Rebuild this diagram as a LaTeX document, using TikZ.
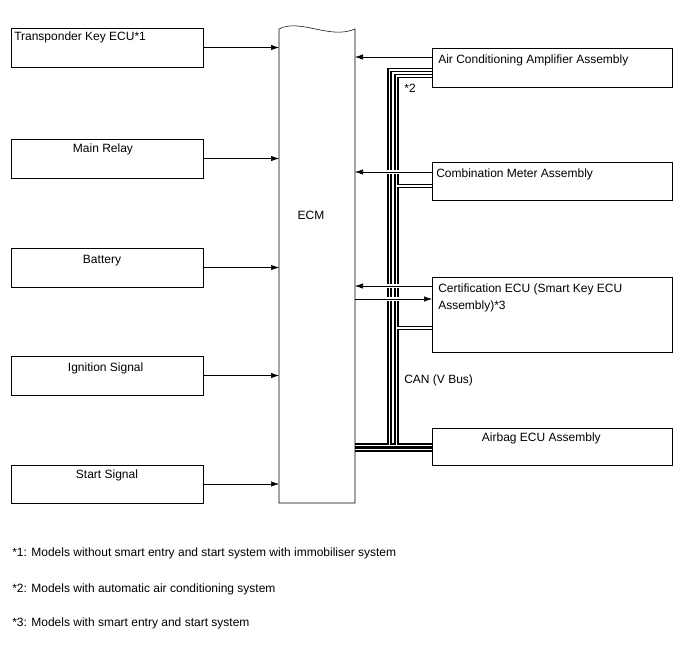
\documentclass[tikz,border=0pt]{standalone}
\usepackage{fontspec}
\setmainfont{Liberation Sans}
\usetikzlibrary{arrows.meta,calc,positioning}
\pgfdeclarelayer{front}
\pgfsetlayers{main,front}
\tikzset{
  ecu diagram/.style={font=\fontsize{9pt}{12.5pt}\selectfont,
    line width=1pt, x=0.75pt, y=-0.75pt},
  ecu box/.style={draw, anchor=north west, minimum width=144pt,
    minimum height=29.25pt, inner sep=0pt, outer sep=0pt},
  ecu wide/.style={ecu box, minimum width=180pt},
  ecu text/.style={inner sep=0pt, align=left},
  sig arrow/.style={-{Latex[length=6pt,width=4pt]}},
  sig cross/.style={sig arrow, preaction={draw=white, line width=3pt}},
  ecu note/.style={anchor=west, inner sep=0pt}
}
\begin{document}
\begin{tikzpicture}[ecu diagram]
\useasboundingbox (0,0) rectangle (688,658);
\begin{pgfonlayer}{front}
% inputs on the left
\node[ecu box] (tk) at (11,28) {};
\node[ecu box] (relay) at (11,139) {};
\node[ecu box] (batt) at (11,248) {};
\node[ecu box] (ign) at (11,356) {};
\node[ecu box, minimum height=28.5pt] (start) at (11,465) {};
\node[ecu text, below right=2.8pt and 2.25pt of tk.north west] (tktxt) {Transponder Key ECU*1};
\node[ecu text, below=3.5pt of relay.north, xshift=-3pt] (relaytxt) {Main Relay};
\node[ecu text, below=5pt of batt.north, xshift=-3.75pt] (batttxt) {Battery};
\node[ecu text, below=5pt of ign.north, xshift=-1pt] (igntxt) {Ignition Signal};
\node[ecu text, below=3.5pt of start.north] (starttxt) {Start Signal};
% engine control module
\node[anchor=north west, minimum width=57pt, minimum height=355.5pt,
  inner sep=0pt, outer sep=0pt] (ecm) at (279,29) {};
\draw (ecm.south west) -- (ecm.north west)
  .. controls +(21,-11) and +(-25,11) .. (ecm.north east)
  -- (ecm.south east) -- cycle;
\node[ecu text] (ecmtxt) at ($(ecm.north)+(-6,186)$) {ECM};
% units on the CAN bus
\node[ecu wide] (ac) at (432,48) {};
\node[ecu wide, minimum height=28.5pt] (cm) at (432,162) {};
\node[ecu wide, minimum height=56.25pt] (cert) at (432,277) {};
\node[ecu wide, minimum height=27.75pt] (airbag) at (432,428) {};
\node[ecu text, below right=5pt and 4.5pt of ac.north west] (actxt) {Air Conditioning Amplifier Assembly};
\node[ecu text, below right=5pt and 3pt of cm.north west] (cmtxt) {Combination Meter Assembly};
\node[ecu text, below right=5pt and 4.5pt of cert.north west] (certtxt) {Certification ECU (Smart Key ECU\\Assembly)*3};
\node[ecu text, below=3.5pt of airbag.north, xshift=-8pt] (airbagtxt) {Airbag ECU Assembly};
\end{pgfonlayer}

\coordinate (canA) at (389.5,70);
\coordinate (canB) at (396.5,76);
\coordinate (canlowA) at (389.5,445.5);
\coordinate (canlowB) at (396.5,449.5);
\coordinate (cmtap) at ($(cm.north west)+(0,24)$);
\coordinate (certtap) at ($(cert.north west)+(0,51)$);
\foreach \w/\c in {3.6pt/black,1pt/white}{
  \draw[line width=\w, draw=\c]
    (ecm.east |- canlowA) -- (airbag.west |- canlowA)
    (ecm.east |- canlowB) -- (airbag.west |- canlowB)
    (canlowA) -- (canA) -- (ac.west |- canA)
    (canlowA -| canB) -- (canB) -- (ac.west |- canB)
    (canB |- cmtap) -- (cmtap)
    (canB |- certtap) -- (certtap);
}
\node[ecu text] (star2) at (410,88) {*2};
\node[ecu text, anchor=west] (cantxt) at (404,380) {CAN (V Bus)};

% signals
\foreach \n in {tk,relay,batt,ign,start}
  \draw[sig arrow] (\n.east) -- (\n.east -| ecm.west);
\coordinate (acin) at ($(ac.north west)+(0,9)$);
\coordinate (cmin) at ($(cm.north west)+(0,10)$);
\coordinate (certin) at ($(cert.north west)+(0,9)$);
\coordinate (certout) at ($(cert.north west)+(0,22)$);
\draw[sig cross] (acin) -- (acin -| ecm.east);
\draw[sig cross] (cmin) -- (cmin -| ecm.east);
\draw[sig cross] (certin) -- (certin -| ecm.east);
\draw[sig cross] (certout -| ecm.east) -- (certout);

\node[ecu note] (note1) at (12,553) {*1: Models without smart entry and start system with immobiliser system};
\node[ecu note] (note2) at (12,589) {*2: Models with automatic air conditioning system};
\node[ecu note] (note3) at (12,623) {*3: Models with smart entry and start system};
\end{tikzpicture}
\end{document}
